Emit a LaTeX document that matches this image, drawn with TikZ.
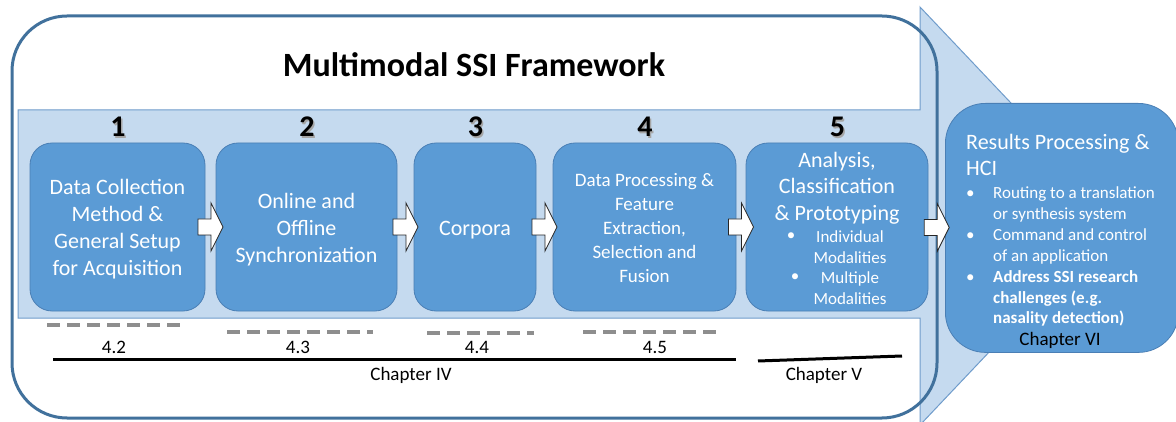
\documentclass[tikz,border=0pt]{standalone}
\usepackage{fontspec}
\setmainfont{Carlito}
\usetikzlibrary{calc}
\definecolor{boxfill}{HTML}{5B9BD5}
\definecolor{boxline}{HTML}{4A7FB5}
\definecolor{bandfill}{HTML}{C5DAEF}
\definecolor{bandline}{HTML}{6F9CCB}
\definecolor{framec}{HTML}{41719C}
\definecolor{dashc}{HTML}{8E8E8E}
\definecolor{shadowc}{HTML}{A6A6A6}
\tikzset{
  stepbox/.style={draw=boxline, line width=0.8pt, fill=boxfill, rounded corners=22pt,
    minimum height=168pt, inner sep=0pt},
  steptxt/.style={text=white, align=center, inner sep=0pt, font=\fontsize{22}{27}\selectfont},
  smalltxt/.style={text=white, align=center, inner sep=0pt, font=\fontsize{17}{20.5}\selectfont},
  numlab/.style={inner sep=0pt, font=\bfseries\fontsize{30}{34}\selectfont},
  chaplab/.style={inner sep=0pt, font=\fontsize{19}{22}\selectfont},
  resline/.style={inner sep=0pt, text=white, anchor=base west, font=\fontsize{17}{20}\selectfont},
  restitle/.style={inner sep=0pt, text=white, anchor=base west, font=\fontsize{22}{26}\selectfont},
  blockarrow/.style={draw=black!85, line width=0.8pt, fill=white, line join=miter},
  sectdash/.style={draw=dashc, line width=3.5pt, dash pattern=on 13pt off 7pt},
  chapline/.style={draw=black, line width=3pt},
}
\begin{document}
\begin{tikzpicture}[x=1pt,y=-1pt]
\useasboundingbox (0,0) rectangle (1176,422);
% frame background
\fill[white, rounded corners=55pt] (12,16) rectangle (937,418);
% big light-blue arrow
\path[fill=bandfill, draw=bandline, line width=1pt]
  (18,110) -- (920,110) -- (920,7) -- (1118,216) -- (920,425) -- (920,318) -- (18,318) -- cycle;
% frame border
\draw[framec, line width=3pt, rounded corners=55pt] (12,16) rectangle (937,418);

% title
\node[inner sep=0pt, font=\bfseries\fontsize{34}{38}\selectfont] (title) at (474,65) {Multimodal SSI Framework};

% step boxes
\node[stepbox, minimum width=175pt] (b1) at (117.5,227) {};
\node[stepbox, minimum width=181pt] (b2) at (306.5,227) {};
\node[stepbox, minimum width=122pt] (b3) at (475,227) {};
\node[stepbox, minimum width=183pt] (b4) at (644.5,227) {};
\node[stepbox, minimum width=182pt] (b5) at (837,227) {};
\node[steptxt] (t1) at ($(b1.center)+(0,2.5)$) {Data Collection\\Method \&\\General Setup\\for Acquisition};
\node[steptxt] (t2) at ($(b2.center)+(0,3)$) {Online and\\Offline\\Synchronization};
\node[steptxt] (t3) at ($(b3.center)+(0,3)$) {Corpora};
\node[steptxt, font=\fontsize{19}{24}\selectfont] (t4) at ($(b4.center)+(0,1)$) {Data Processing \&\\Feature\\Extraction,\\Selection and\\Fusion};
\node[steptxt, font=\fontsize{22}{26.5}\selectfont] (b5h) at (837,188) {Analysis,\\Classification\\\& Prototyping};
\node[smalltxt] (b5i1) at (850,247) {Individual\\Modalities};
\node[smalltxt] (b5i2) at (850,288) {Multiple\\Modalities};
\node[smalltxt] (b5d1) at (791,237) {\textbullet};
\node[smalltxt] (b5d2) at (795,278) {\textbullet};

% numbers with shadow
\foreach \n/\b in {1/b1,2/b2,3/b3,4/b4,5/b5}{
  \node[numlab, text=shadowc] (n\n s) at ($(\b.center|-0,127)+(2,1.5)$) {\n};
  \node[numlab] (n\n) at ($(\b.center|-0,127)+(0.5,0)$) {\n};
}

% results box
\node[draw=boxline, line width=0.8pt, fill=boxfill, rounded corners=40pt, inner sep=0pt,
  minimum width=233pt, minimum height=249pt, anchor=north west] (res) at (945,103) {};
\node[restitle] (rt1) at (966,150) {Results Processing \&};
\node[restitle] (rt2) at (966,176) {HCI};
\node[resline] (r1) at (993,199) {Routing to a translation};
\node[resline] (r2) at (993,219.8) {or synthesis system};
\node[resline] (r3) at (993,240.6) {Command and control};
\node[resline] (r4) at (993,261.4) {of an application};
\node[resline, font=\bfseries\fontsize{17}{20}\selectfont] (r5) at (993,282.2) {Address SSI research};
\node[resline, font=\bfseries\fontsize{17}{20}\selectfont] (r6) at (993,303) {challenges (e.g.};
\node[resline, font=\bfseries\fontsize{17}{20}\selectfont] (r7) at (993,323.8) {nasality detection)};
\node[resline] (rd1) at (966,199) {\textbullet};
\node[resline] (rd2) at (966,240.6) {\textbullet};
\node[resline] (rd3) at (966,282.2) {\textbullet};
\node[chaplab, anchor=base] (ch6) at (1060,345.5) {Chapter VI};

% block arrows between boxes
\foreach \a/\b in {b1/b2,b2/b3,b3/b4,b4/b5,b5/res}{
  \draw[blockarrow] let \p1=($(\a.east)!0.5!(\b.west)$) in
    (\x1-12.5,\y1-8) -- (\x1+0.5,\y1-8) -- (\x1+0.5,\y1-24) -- (\x1+12.5,\y1) --
    (\x1+0.5,\y1+24) -- (\x1+0.5,\y1+8) -- (\x1-12.5,\y1+8) -- cycle;
}

% section dashes
\draw[sectdash] (47,325) -- (184,325);
\draw[sectdash] (227,332) -- (373,332);
\draw[sectdash] (427,333) -- (534,333);
\draw[sectdash] (583,332) -- (716,332);
\node[chaplab] (s42) at (114,347) {4.2};
\node[chaplab] (s43) at (298,347) {4.3};
\node[chaplab] (s44) at (477,347) {4.4};
\node[chaplab] (s45) at (655,347) {4.5};

% chapter lines
\draw[chapline] (53,359) -- (736,359);
\draw[chapline] (758,361) -- (902,356);
\node[chaplab] (ch4) at (411,375) {Chapter IV};
\node[chaplab] (ch5) at (824,375) {Chapter V};
\end{tikzpicture}
\end{document}
